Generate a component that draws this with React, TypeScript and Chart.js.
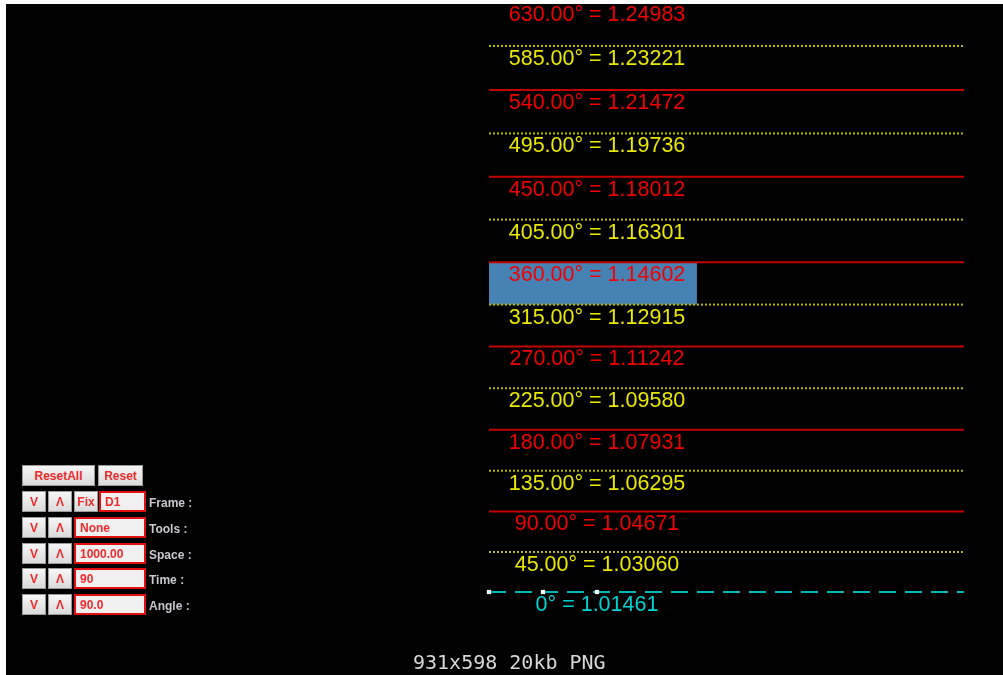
import React, { useEffect, useRef } from "react";
import { Chart, registerables } from "chart.js";

Chart.register(...registerables);

// Gann angle levels
const angles: number[] = [0, 45, 90, 135, 180, 225, 270, 315, 360, 405, 450, 495, 540, 585, 630];
const prices: number[] = [
  1.01461, 1.0306, 1.04671, 1.06295, 1.07931, 1.0958, 1.11242, 1.12915, 1.14602, 1.16301, 1.18012,
  1.19736, 1.21472, 1.23221, 1.24983,
];
// time axis (bars)
const lineStartBar = 0;
const lineEndBar = 70.37;
const anchorBars: number[] = [0, 8, 16];
const labelBar = 16;
const boxEndBar = 30.8;
const boxFromAngle = 315;
const boxToAngle = 360;
const xRange: [number, number] = [-71.556, 76.148];
const yRange: [number, number] = [0.981532, 1.248949];

const panelRows = [
  { value: "D1", label: "Frame :", fix: true },
  { value: "None", label: "Tools :", fix: false },
  { value: "1000.00", label: "Space :", fix: false },
  { value: "90", label: "Time :", fix: false },
  { value: "90.0", label: "Angle :", fix: false },
];

const RED_LINE = "#c40000";
const RED_TEXT = "#f00000";
const YEL_LINE = "#b8b800";
const YEL_TEXT = "#e8e800";
const CYAN_LINE = "#00b8b8";
const CYAN_TEXT = "#00d2d2";

function levelStyle(a: number) {
  if (a === 0) return { line: CYAN_LINE, text: CYAN_TEXT, dash: [17, 9] };
  if (a % 90 === 0) return { line: RED_LINE, text: RED_TEXT, dash: [] as number[] };
  return { line: YEL_LINE, text: YEL_TEXT, dash: [2, 2] };
}

function levelLabel(a: number, p: number) {
  const ang = a === 0 ? "0" : a.toFixed(2);
  return `${ang}° = ${p.toFixed(5)}`;
}

const boxPlugin = {
  id: "gannBox",
  beforeDatasetsDraw(chart: any) {
    const { ctx, scales } = chart;
    const x0 = scales.x.getPixelForValue(lineStartBar);
    const x1 = scales.x.getPixelForValue(boxEndBar);
    const yTop = scales.y.getPixelForValue(prices[angles.indexOf(boxToAngle)]);
    const yBot = scales.y.getPixelForValue(prices[angles.indexOf(boxFromAngle)]);
    ctx.save();
    ctx.fillStyle = "#4682b4";
    ctx.fillRect(x0, yTop, x1 - x0, yBot - yTop);
    ctx.restore();
  },
};

const labelPlugin = {
  id: "gannLabels",
  afterDatasetsDraw(chart: any) {
    const { ctx, scales } = chart;
    ctx.save();
    ctx.font = '21.5px "Liberation Sans", Arial, sans-serif';
    ctx.textAlign = "center";
    ctx.textBaseline = "middle";
    angles.forEach((a, i) => {
      const st = levelStyle(a);
      const x = scales.x.getPixelForValue(labelBar);
      const y = scales.y.getPixelForValue(prices[i]) + 13;
      ctx.fillStyle = st.text;
      ctx.fillText(levelLabel(a, prices[i]), x, y);
    });
    ctx.restore();
  },
};

function GannChart() {
  const ref = useRef<HTMLCanvasElement | null>(null);
  useEffect(() => {
    if (!ref.current) return;
    const datasets: any[] = angles.map((a, i) => {
      const st = levelStyle(a);
      return {
        type: "line",
        label: levelLabel(a, prices[i]),
        data: [
          { x: lineStartBar, y: prices[i] },
          { x: lineEndBar, y: prices[i] },
        ],
        borderColor: st.line,
        borderWidth: 2,
        borderDash: st.dash,
        pointRadius: 0,
        pointHoverRadius: 0,
        fill: false,
        order: 1,
      };
    });
    datasets.push({
      type: "scatter",
      label: "anchors",
      data: anchorBars.map((b) => ({ x: b, y: prices[0] })),
      pointStyle: "rect",
      pointRadius: 3,
      backgroundColor: "#ffffff",
      borderColor: "#ffffff",
      borderWidth: 0,
      order: 0,
    });
    const chart = new Chart(ref.current, {
      type: "line",
      data: { datasets },
      options: {
        animation: false,
        responsive: false,
        devicePixelRatio: 1,
        layout: { padding: 0, autoPadding: false },
        plugins: { legend: { display: false }, tooltip: { enabled: false } },
        scales: {
          x: { type: "linear", display: false, min: xRange[0], max: xRange[1] },
          y: { type: "linear", display: false, min: yRange[0], max: yRange[1] },
        },
      },
      plugins: [boxPlugin, labelPlugin],
    } as any);
    return () => chart.destroy();
  }, []);
  return <canvas ref={ref} width={997} height={671} style={{ display: "block" }} />;
}

const btn: React.CSSProperties = {
  position: "absolute",
  boxSizing: "border-box",
  background: "linear-gradient(#f6f6f6, #dadada)",
  border: "1px solid #9a9a9a",
  color: "#ee2a2a",
  font: 'bold 12px "Liberation Sans", Arial, sans-serif',
  display: "flex",
  alignItems: "center",
  justifyContent: "center",
  height: 21,
};
const field: React.CSSProperties = {
  position: "absolute",
  boxSizing: "border-box",
  background: "#f0f0f0",
  border: "2px solid #e01010",
  color: "#ee2a2a",
  font: 'bold 12px "Liberation Sans", Arial, sans-serif',
  display: "flex",
  alignItems: "center",
  paddingLeft: 4,
  height: 21,
};
const lab: React.CSSProperties = {
  position: "absolute",
  color: "#c8c8d0",
  font: 'bold 12px "Liberation Sans", Arial, sans-serif',
  height: 21,
  display: "flex",
  alignItems: "center",
  whiteSpace: "nowrap",
};

export default function App() {
  const rowTops = [491, 517, 543, 568, 594];
  return (
    <div style={{ position: "fixed", left: 0, top: 0, width: 1003, height: 675, background: "#fff" }}>
      <div style={{ position: "absolute", left: 6, top: 4, width: 997, height: 671, background: "#000" }}>
        <GannChart />
      </div>
      <div style={{ ...btn, left: 22, top: 465, width: 73 }}>ResetAll</div>
      <div style={{ ...btn, left: 98, top: 465, width: 45 }}>Reset</div>
      {panelRows.map((r, i) => (
        <React.Fragment key={r.label}>
          <div style={{ ...btn, left: 22, top: rowTops[i], width: 24 }}>V</div>
          <div style={{ ...btn, left: 48, top: rowTops[i], width: 24 }}>Λ</div>
          {r.fix ? (
            <>
              <div style={{ ...btn, left: 74, top: rowTops[i], width: 24 }}>Fix</div>
              <div style={{ ...field, left: 99, top: rowTops[i], width: 47 }}>{r.value}</div>
            </>
          ) : (
            <div style={{ ...field, left: 74, top: rowTops[i], width: 72 }}>{r.value}</div>
          )}
          <div style={{ ...lab, left: 149, top: rowTops[i] + 1 }}>{r.label}</div>
        </React.Fragment>
      ))}
      <div
        style={{
          position: "absolute",
          left: 413,
          top: 652,
          font: '20px "DejaVu Sans Mono", monospace',
          lineHeight: "20px",
          color: "#d8d8d8",
          whiteSpace: "nowrap",
        }}
      >
        931x598 20kb PNG
      </div>
    </div>
  );
}
